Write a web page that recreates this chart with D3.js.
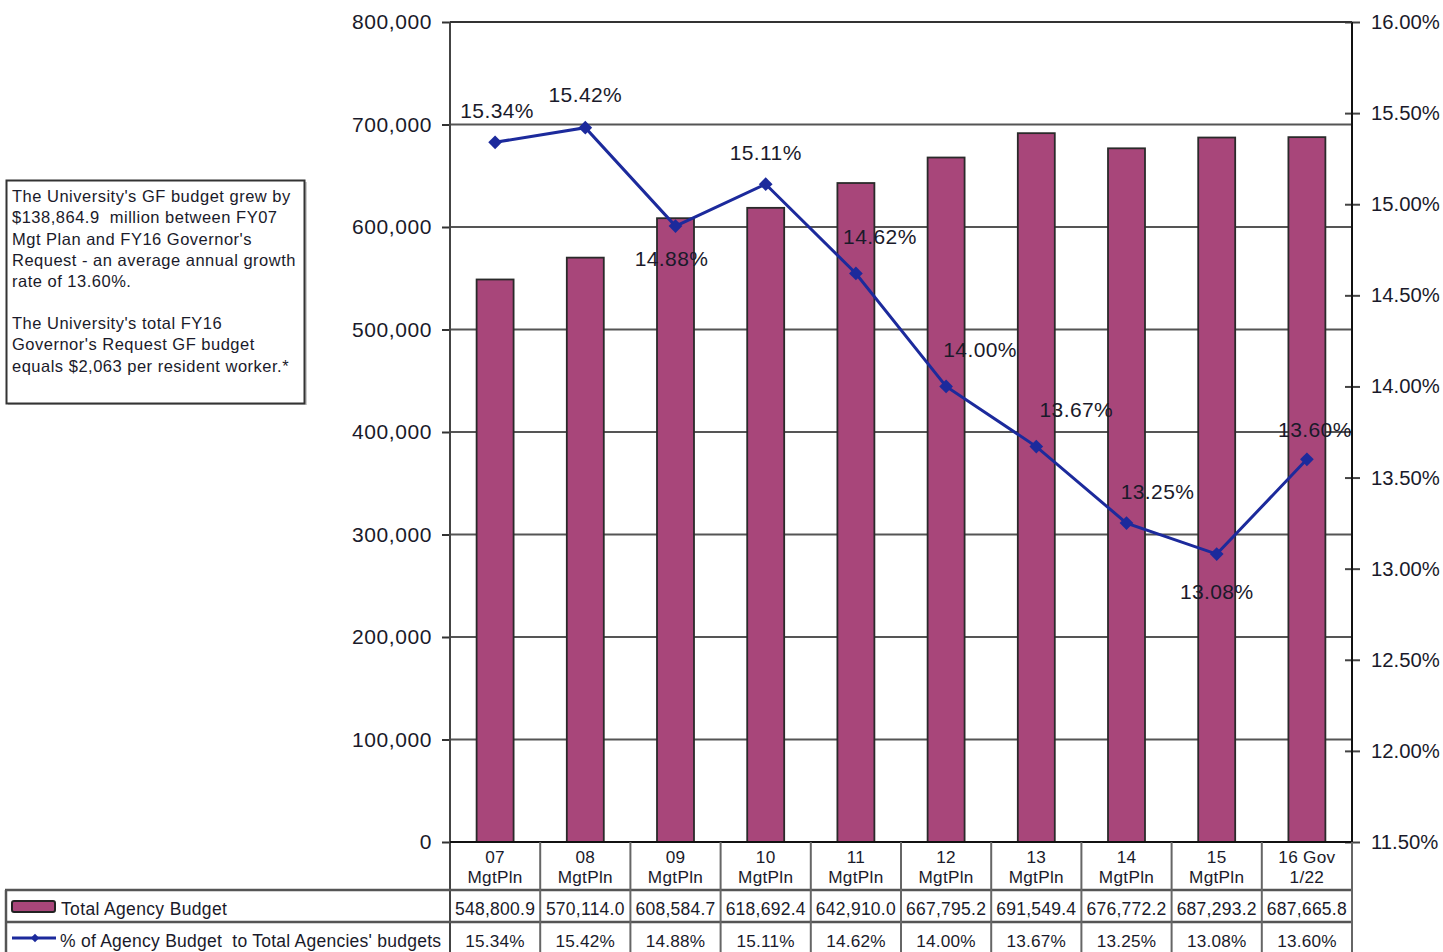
<!DOCTYPE html>
<html><head><meta charset="utf-8">
<script src="https://cdn.jsdelivr.net/npm/d3@7"></script>
<style>
html,body{margin:0;padding:0;background:#fff;overflow:hidden;}
text{font-family:"Liberation Sans",Arial,sans-serif;white-space:pre;}
</style></head>
<body>
<svg id="chart" width="1443" height="952"></svg>
<script>
// ---- data ----
const categories = [["07","MgtPln"],["08","MgtPln"],["09","MgtPln"],["10","MgtPln"],["11","MgtPln"],["12","MgtPln"],["13","MgtPln"],["14","MgtPln"],["15","MgtPln"],["16 Gov","1/22"]];
const budgetValues = [548800.9, 570114.0, 608584.7, 618692.4, 642910.0, 667795.2, 691549.4, 676772.2, 687293.2, 687665.8];
const budgetLabels = ["548,800.9","570,114.0","608,584.7","618,692.4","642,910.0","667,795.2","691,549.4","676,772.2","687,293.2","687,665.8"];
const pctValues = [15.34, 15.42, 14.88, 15.11, 14.62, 14.00, 13.67, 13.25, 13.08, 13.60];
const leftTicks = [0,100000,200000,300000,400000,500000,600000,700000,800000];
const rightTicks = [11.5,12,12.5,13,13.5,14,14.5,15,15.5,16];
const seriesNames = ["Total Agency Budget","% of Agency Budget  to Total Agencies' budgets"];
const noteParagraphs = [
  ["The University's GF budget grew by","$138,864.9  million between FY07","Mgt Plan and FY16 Governor's","Request - an average annual growth","rate of 13.60%."],
  ["The University's total FY16","Governor's Request GF budget","equals $2,063 per resident worker.*"]
];
// label placement (presentation only)
const labelOffsets = [[2,-32],[0,-33],[-4,32],[0,-32],[24,-37],[34,-37],[40,-37],[31,-32],[0,37],[8,-30]];

// ---- layout ----
const L = 450, R = 1352, T = 22, B = 842;
const barColor = "#a8467a", lineColor = "#1c2a9c", gridColor = "#555", textColor = "#1a1a2a";
const svg = d3.select("#chart");

const x = d3.scaleBand().domain(d3.range(categories.length)).range([L, R]).paddingInner(0.59).paddingOuter(0.295);
const yL = d3.scaleLinear().domain([0, 800000]).range([B, T]);
const yR = d3.scaleLinear().domain([11.5, 16]).range([B, T]);
const colW = (R - L) / categories.length;

// gridlines
svg.append("g").selectAll("line").data(leftTicks.filter(d => d > 0)).join("line")
  .attr("x1", L).attr("x2", R).attr("y1", d => yL(d)).attr("y2", d => yL(d))
  .attr("stroke", gridColor).attr("stroke-width", 2.2);

// bars
svg.append("g").selectAll("rect").data(budgetValues).join("rect")
  .attr("x", (d, i) => x(i)).attr("width", x.bandwidth())
  .attr("y", d => yL(d)).attr("height", d => B - yL(d))
  .attr("fill", barColor).attr("stroke", "#2a2a2a").attr("stroke-width", 1.8);

// left axis
const leftAxis = d3.axisLeft(yL).tickValues(leftTicks).tickSize(8).tickPadding(10)
  .tickFormat(d3.format(","));
const gL = svg.append("g").attr("transform", `translate(${L},0)`).call(leftAxis);
gL.select(".domain").remove();
gL.selectAll(".tick line").attr("stroke", "#333").attr("stroke-width", 2);
gL.selectAll(".tick text").attr("font-size", 21).attr("letter-spacing", 0.6).attr("fill", textColor).attr("font-family", "Liberation Sans, Arial");

// right axis
const rightAxis = d3.axisRight(yR).tickValues(rightTicks).tickSize(8).tickPadding(11)
  .tickFormat(d => d.toFixed(2) + "%");
const gR = svg.append("g").attr("transform", `translate(${R},0)`).call(rightAxis);
gR.select(".domain").remove();
gR.selectAll(".tick line").attr("x1", -7).attr("stroke", "#444").attr("stroke-width", 2);
gR.selectAll(".tick text").attr("font-size", 20.3).attr("fill", textColor).attr("font-family", "Liberation Sans, Arial");

// axis lines
svg.append("line").attr("x1", L).attr("x2", L).attr("y1", T).attr("y2", 952).attr("stroke", "#444").attr("stroke-width", 2);
svg.append("line").attr("x1", R).attr("x2", R).attr("y1", T).attr("y2", B).attr("stroke", "#111").attr("stroke-width", 2);
svg.append("line").attr("x1", L).attr("x2", R).attr("y1", T).attr("y2", T).attr("stroke", "#333").attr("stroke-width", 2);
svg.append("line").attr("x1", L).attr("x2", R).attr("y1", B).attr("y2", B).attr("stroke", "#111").attr("stroke-width", 2);

// line series
const cx = i => x(i) + x.bandwidth() / 2;
const line = d3.line().x((d, i) => cx(i)).y(d => yR(d));
svg.append("path").datum(pctValues).attr("d", line).attr("fill", "none")
  .attr("stroke", lineColor).attr("stroke-width", 3);
const diamond = d3.symbol().type(d3.symbolDiamond2).size(120);
svg.append("g").selectAll("path").data(pctValues).join("path")
  .attr("d", diamond).attr("transform", (d, i) => `translate(${cx(i)},${yR(d)})`)
  .attr("fill", lineColor);

// point labels
svg.append("g").selectAll("text").data(pctValues).join("text")
  .attr("x", (d, i) => cx(i) + labelOffsets[i][0])
  .attr("y", (d, i) => yR(d) + labelOffsets[i][1])
  .attr("text-anchor", "middle").attr("dominant-baseline", "central")
  .attr("font-size", 21).attr("letter-spacing", 0.4).attr("fill", textColor)
  .text(d => d.toFixed(2) + "%");

// ---- data table ----
const tbl = svg.append("g");
[890, 922].forEach(yy => tbl.append("line").attr("x1", 5).attr("x2", R).attr("y1", yy).attr("y2", yy)
  .attr("stroke", "#555").attr("stroke-width", 2.5));
tbl.append("line").attr("x1", 6).attr("x2", 6).attr("y1", 890).attr("y2", 952).attr("stroke", "#555").attr("stroke-width", 2.5);
tbl.selectAll("line.col").data(d3.range(1, categories.length + 1)).join("line").attr("class", "col")
  .attr("x1", i => L + i * colW).attr("x2", i => L + i * colW)
  .attr("y1", B).attr("y2", 952).attr("stroke", "#666").attr("stroke-width", 2);

// category labels
const catG = tbl.append("g").selectAll("text").data(categories).join("text")
  .attr("text-anchor", "middle").attr("font-size", 17.2).attr("letter-spacing", 0.3).attr("fill", textColor);
catG.append("tspan").attr("x", (d, i) => L + (i + 0.5) * colW).attr("y", 863).text(d => d[0]);
catG.append("tspan").attr("x", (d, i) => L + (i + 0.5) * colW).attr("y", 883).text(d => d[1]);

// budget row
tbl.append("g").selectAll("text").data(budgetLabels).join("text")
  .attr("x", (d, i) => L + (i + 0.5) * colW).attr("y", 915)
  .attr("text-anchor", "middle").attr("font-size", 17.5).attr("letter-spacing", 0.25).attr("fill", textColor).text(d => d);
// pct row
tbl.append("g").selectAll("text").data(pctValues).join("text")
  .attr("x", (d, i) => L + (i + 0.5) * colW).attr("y", 947)
  .attr("text-anchor", "middle").attr("font-size", 17.2).attr("letter-spacing", 0.2).attr("fill", textColor).text(d => d.toFixed(2) + "%");

// legend keys in table
tbl.append("rect").attr("x", 12).attr("y", 901).attr("width", 43).attr("height", 11).attr("rx", 2)
  .attr("fill", barColor).attr("stroke", "#222").attr("stroke-width", 2);
tbl.append("text").attr("x", 61).attr("y", 915).attr("font-size", 17.5).attr("letter-spacing", 0.35).attr("fill", textColor).text(seriesNames[0]);
tbl.append("line").attr("x1", 12).attr("x2", 56).attr("y1", 938).attr("y2", 938).attr("stroke", lineColor).attr("stroke-width", 3);
tbl.append("path").attr("d", d3.symbol().type(d3.symbolDiamond2).size(45)).attr("transform", "translate(35,938)").attr("fill", lineColor);
tbl.append("text").attr("x", 60).attr("y", 947).attr("font-size", 17.5).attr("letter-spacing", 0.25).attr("fill", textColor).text(seriesNames[1]);

// ---- note box ----
const note = svg.append("g");
note.append("rect").attr("x", 8).attr("y", 182).attr("width", 299).attr("height", 223).attr("fill", "#ccc");
note.append("rect").attr("x", 6.5).attr("y", 180.5).attr("width", 298).attr("height", 223)
  .attr("fill", "#fff").attr("stroke", "#333").attr("stroke-width", 2);
const lineStarts = [202, 329];
noteParagraphs.forEach((p, pi) => {
  p.forEach((t, li) => {
    note.append("text").attr("x", 12).attr("y", lineStarts[pi] + li * 21.3)
      .attr("font-size", 16.5).attr("letter-spacing", 0.5).attr("fill", textColor).text(t);
  });
});
</script>
</body></html>
